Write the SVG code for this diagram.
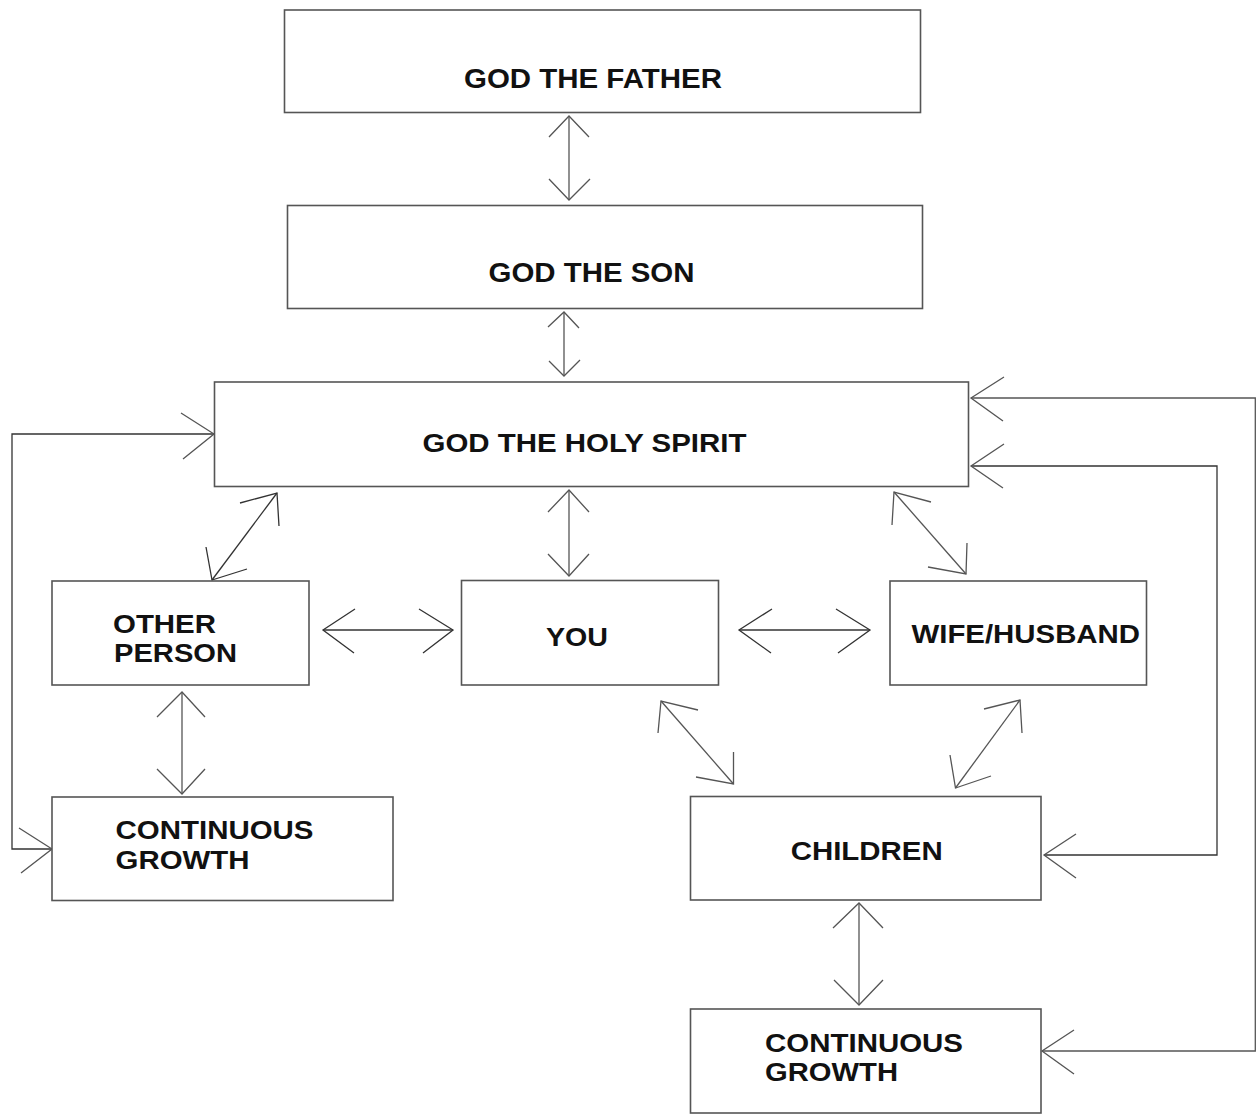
<svg xmlns="http://www.w3.org/2000/svg" width="1256" height="1115" viewBox="0 0 1256 1115">
<style>
.box{fill:#fff;stroke:#555;stroke-width:1.6}
.lbl{font-family:"Liberation Sans",Arial,sans-serif;font-weight:bold;font-size:25.5px;fill:#111}
.big{font-size:27px}
.c{fill:none;stroke:#555;stroke-width:1.3}
.k{fill:none;stroke:#333;stroke-width:1.3}
</style>
<rect width="1256" height="1115" fill="#fff"/>
<g id="connectors">
<line class="c" x1="569" y1="116" x2="569" y2="200"/>
<polyline class="c" points="549,137 569,116 589,137"/>
<polyline class="c" points="549,179 569,200 590,179"/>
<line class="c" x1="564" y1="312" x2="564" y2="376"/>
<polyline class="c" points="548,327 564,312 579,328"/>
<polyline class="c" points="549,361 564,376 580,360"/>
<line class="c" x1="569" y1="490" x2="569" y2="576"/>
<polyline class="c" points="548,512 569,490 589,512"/>
<polyline class="c" points="548,554 569,576 589,554"/>
<line class="k" x1="277" y1="493" x2="212" y2="580"/>
<polyline class="k" points="240,503 277,493 279,526"/>
<polyline class="k" points="206,547 212,580 247,569"/>
<line class="c" x1="894" y1="492" x2="966" y2="574"/>
<polyline class="c" points="931,502 894,492 892,525"/>
<polyline class="c" points="967,543 966,574 928,567"/>
<line class="k" x1="323" y1="630" x2="453" y2="630"/>
<polyline class="k" points="355,609 323,630 354,653"/>
<polyline class="k" points="419,609 453,630 423,653"/>
<line class="k" x1="739" y1="630" x2="870" y2="630"/>
<polyline class="k" points="772,609 739,630 771,653"/>
<polyline class="k" points="836,609 870,630 838,653"/>
<line class="c" x1="182" y1="692" x2="182" y2="794"/>
<polyline class="c" points="157,717 182,692 205,717"/>
<polyline class="c" points="157,769 182,794 205,769"/>
<line class="c" x1="661" y1="701" x2="733.5" y2="784"/>
<polyline class="c" points="698,710 661,701 658,733"/>
<polyline class="c" points="733.5,752 733.5,784 696,777"/>
<line class="c" x1="1020" y1="700" x2="955.5" y2="788"/>
<polyline class="c" points="984,709 1020,700 1022,733"/>
<polyline class="c" points="950,755 955.5,788 991,776"/>
<line class="c" x1="859" y1="903" x2="859" y2="1005"/>
<polyline class="c" points="833,928 859,903 883,928"/>
<polyline class="c" points="834,980 859,1005 883,980"/>
<path class="k" d="M214,434 H12 V849 H52"/>
<polyline class="c" points="181,413 214,434 183,459"/>
<polyline class="c" points="19,828 52,849 21,873"/>
<path class="c" d="M971,398 H1255.3 V1051 H1042"/>
<polyline class="c" points="1004,377 971,398 1003,421"/>
<polyline class="c" points="1074,1030 1042,1051 1074,1074"/>
<path class="k" d="M971,466 H1217 V855 H1044"/>
<polyline class="c" points="1004,444 971,466 1003,488"/>
<polyline class="c" points="1076,834 1044,855 1076,878"/>
</g>
<g id="father">
<rect class="box" x="284.5" y="10" width="636" height="102.5"/>
<text class="lbl big" x="464" y="88" textLength="258" lengthAdjust="spacingAndGlyphs">GOD THE FATHER</text>
</g>
<g id="son">
<rect class="box" x="287.5" y="205.5" width="635" height="103"/>
<text class="lbl big" x="488.5" y="282" textLength="206" lengthAdjust="spacingAndGlyphs">GOD THE SON</text>
</g>
<g id="holy-spirit">
<rect class="box" x="214.5" y="382" width="754" height="104.5"/>
<text class="lbl" x="422.5" y="452" textLength="324" lengthAdjust="spacingAndGlyphs">GOD THE HOLY SPIRIT</text>
</g>
<g id="other-person">
<rect class="box" x="52" y="581" width="257" height="104"/>
<text class="lbl" x="113" y="633" textLength="103" lengthAdjust="spacingAndGlyphs">OTHER</text>
<text class="lbl" x="114" y="662" textLength="123" lengthAdjust="spacingAndGlyphs">PERSON</text>
</g>
<g id="you">
<rect class="box" x="461.5" y="580.5" width="257" height="104.5"/>
<text class="lbl" x="546" y="646" textLength="62" lengthAdjust="spacingAndGlyphs">YOU</text>
</g>
<g id="wife-husband">
<rect class="box" x="890" y="581" width="256.5" height="104"/>
<text class="lbl" x="911.5" y="643" textLength="228.5" lengthAdjust="spacingAndGlyphs">WIFE/HUSBAND</text>
</g>
<g id="growth-left">
<rect class="box" x="52" y="797" width="341" height="103.5"/>
<text class="lbl" x="115.5" y="839" textLength="198" lengthAdjust="spacingAndGlyphs">CONTINUOUS</text>
<text class="lbl" x="115.5" y="869" textLength="134" lengthAdjust="spacingAndGlyphs">GROWTH</text>
</g>
<g id="children">
<rect class="box" x="690.5" y="796.5" width="350.5" height="103.5"/>
<text class="lbl" x="790.7" y="860" textLength="152" lengthAdjust="spacingAndGlyphs">CHILDREN</text>
</g>
<g id="growth-right">
<rect class="box" x="690.5" y="1009" width="350.5" height="104"/>
<text class="lbl" x="765" y="1052" textLength="198" lengthAdjust="spacingAndGlyphs">CONTINUOUS</text>
<text class="lbl" x="765" y="1081" textLength="133" lengthAdjust="spacingAndGlyphs">GROWTH</text>
</g>
</svg>
